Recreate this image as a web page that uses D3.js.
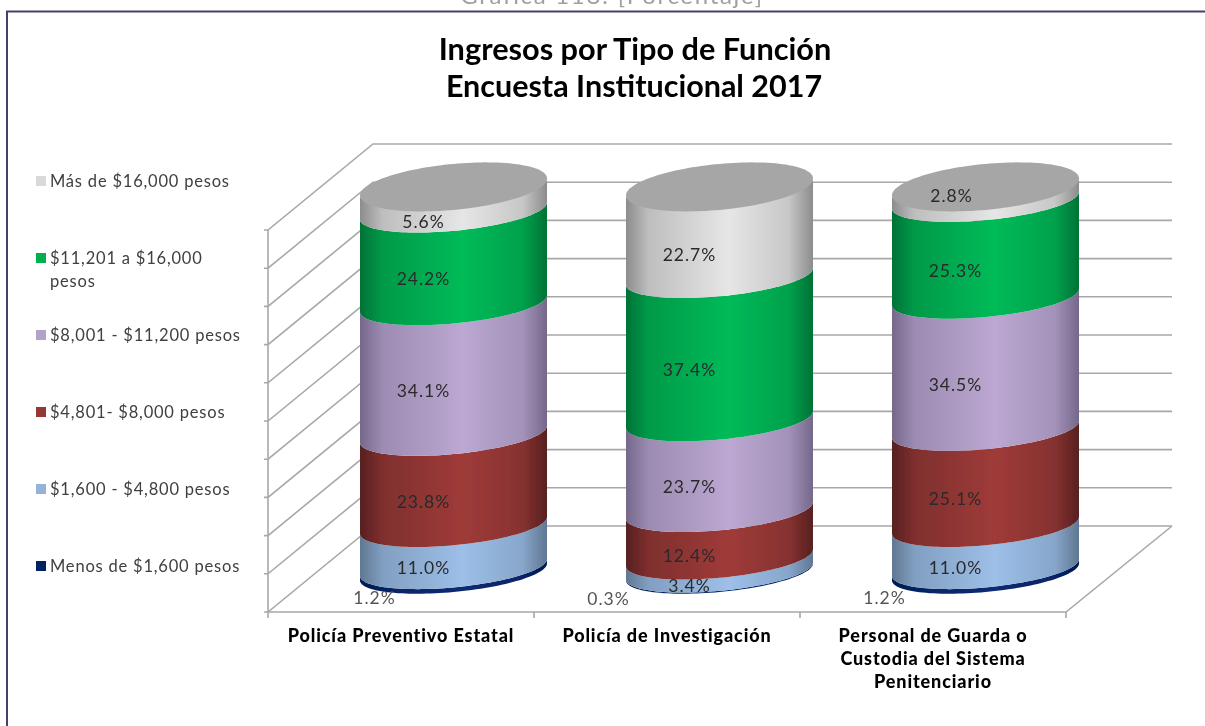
<!DOCTYPE html>
<html><head><meta charset="utf-8">
<script src="https://cdn.jsdelivr.net/npm/d3@7"></script>
<style>html,body{margin:0;padding:0;background:#fff;overflow:hidden}svg{display:block}text{font-family:Lato,"Open Sans",sans-serif}</style>
</head><body><svg id="c" width="1205" height="726"></svg>
<script>
const categories = ["Policía Preventivo Estatal","Policía de Investigación","Personal de Guarda o|Custodia del Sistema|Penitenciario"];
const seriesNames = ["Menos de $1,600 pesos","$1,600 - $4,800 pesos","$4,801- $8,000 pesos","$8,001 - $11,200 pesos","$11,201 a $16,000|pesos","Más de $16,000 pesos"];
const menos1600 = [1.2,0.3,1.2];
const de1600 = [11.0,3.4,11.0];
const de4801 = [23.8,12.4,25.1];
const de8001 = [34.1,23.7,34.5];
const de11201 = [24.2,37.4,25.3];
const mas16000 = [5.6,22.7,2.8];
const seriesValues = [menos1600,de1600,de4801,de8001,de11201,mas16000];
const yTicks = [0,10,20,30,40,50,60,70,80,90,100];
const bright = ["#0b2a72","#9dbfe8","#9f3b39","#bca8d2","#00bb58","#e6e6e6"];
const dark = ["#001a50","#5f7792","#572020","#75688a","#007236","#8c8c8c"];
const legendColors = ["#002060","#95b3d7","#953735","#b3a2c7","#00b050","#d9d9d9"];

const svg = d3.select("#c");
const defs = svg.append("defs");
defs.append("filter").attr("id","soft").attr("x","-2%").attr("y","-2%").attr("width","104%").attr("height","104%")
  .append("feGaussianBlur").attr("stdDeviation",0.55);
const root = svg.append("g").attr("filter","url(#soft)");

// page furniture
root.append("text").attr("x",612).attr("y",4).attr("text-anchor","middle").attr("font-size",24)
  .attr("letter-spacing",1.7).attr("fill","#a0a0a0").text("Gráfica 118: [Porcentaje]");
root.append("path").attr("d","M7,730V11.5H1210").attr("fill","none").attr("stroke","#4a3f6b").attr("stroke-width",2);

// title
root.append("text").attr("x",635).attr("y",60).attr("text-anchor","middle").attr("font-weight",700)
  .attr("font-size",30.7).attr("fill","#000").text("Ingresos por Tipo de Función");
root.append("text").attr("x",634).attr("y",97).attr("text-anchor","middle").attr("font-weight",700)
  .attr("font-size",30.5).attr("fill","#000").text("Encuesta Institucional 2017");

// scales
const x = d3.scaleBand().domain(categories).range([268,1066]);
const yFront = d3.scaleLinear().domain([0,100]).range([612,230]);
const depthX = 105, depthY = -86;
const yCyl = d3.scaleLinear().domain([0,100]).range([572,189]);
const rx = 93.5, A = 20, B = 8.5, capLift = 2.5;

// walls and gridlines
const grid = root.append("g").attr("fill","none").attr("stroke","#a8a8a8").attr("stroke-width",1.6);
yTicks.forEach(t=>{
  const y=yFront(t);
  grid.append("path").attr("d",`M264,${y}H268L${268+depthX},${y+depthY}H${1066+depthX+1}`);
});
grid.append("path").attr("d",`M268,${yFront(100)}V${yFront(0)}H1066L${1066+depthX+1},${yFront(0)+depthY}`);
categories.concat([null]).forEach((c,i)=>{
  const xx = c? x(c): x.range()[1];
  grid.append("path").attr("d",`M${xx},612V618`);
});

// cylinders
const table = categories.map((c,i)=>{const o={c}; seriesNames.forEach((s,k)=>o[s]=seriesValues[k][i]); return o;});
const stacked = d3.stack().keys(seriesNames)(table);
function frontArc(cx,cy,rev){
  const pts=d3.range(0,65).map(i=>{
    const t=Math.PI*i/64;
    return [cx+rx*Math.cos(t), cy+A*Math.sin(t)-B*Math.cos(t)];
  });
  return rev?pts.reverse():pts;
}
const line=d3.line();
categories.forEach((c,i)=>{
  const cx=x(c)+x.bandwidth()/2+depthX/2;
  const g=root.append("g");
  stacked.forEach((layer,k)=>{
    const id=`g${i}_${k}`;
    const lg=defs.append("linearGradient").attr("id",id).attr("gradientUnits","userSpaceOnUse")
      .attr("x1",cx-rx).attr("x2",cx+rx).attr("y1",0).attr("y2",0);
    [[0,dark[k]],[0.12,d3.interpolateRgb(dark[k],bright[k])(0.55)],[0.55,bright[k]],[0.87,d3.interpolateRgb(dark[k],bright[k])(0.65)],[1,dark[k]]]
      .forEach(s=>lg.append("stop").attr("offset",s[0]).attr("stop-color",s[1]));
    const [v0,v1]=layer[i];
    const isTop=k===stacked.length-1;
    const lower=frontArc(cx,yCyl(v0)), upper=frontArc(cx,yCyl(v1)-(isTop?capLift:0),true);
    g.append("path").attr("d",line(lower.concat(upper))+"Z").attr("fill",`url(#${id})`);
  });
  // top cap
  const topV=stacked[stacked.length-1][i][1];
  const capY=yCyl(topV)-capLift;
  const cap=d3.range(0,129).map(j=>{const t=2*Math.PI*j/128;
    return [cx+rx*Math.cos(t), capY+23*Math.sin(t)-B*Math.cos(t)];});
  g.append("path").attr("d",line(cap)+"Z").attr("fill","#a6a6a6");
});

// data labels
const labelGroup=root.append("g").attr("font-size",17.5).attr("text-anchor","middle").attr("letter-spacing",1);
const outside={ "0_0":[-79,28],"1_0":[-111,28],"2_0":[-101,28], "2_5":[-34,1] };
stacked.forEach((layer,k)=>{
  categories.forEach((c,i)=>{
    const cx=x(c)+x.bandwidth()/2+depthX/2;
    const [v0,v1]=layer[i];
    const o=outside[`${i}_${k}`]||[-30,22];
    labelGroup.append("text").attr("x",cx+o[0]).attr("y",yCyl((v0+v1)/2)+o[1]+6)
      .attr("fill",k===0?"#555":"#2a2a2a").text((v1-v0).toFixed(1)+"%");
  });
});

// axis labels
const axisLabels=root.append("g").attr("font-size",18).attr("font-weight",900).attr("text-anchor","middle").attr("fill","#000").attr("letter-spacing",0.88);
categories.forEach(c=>{
  c.split("|").forEach((t,j)=>{
    axisLabels.append("text").attr("x",x(c)+x.bandwidth()/2).attr("y",642+j*23).text(t);
  });
});

// legend
const legendY=d3.scalePoint().domain(seriesNames).range([566,181]);
const legend=root.append("g");
seriesNames.forEach((s,k)=>{
  const y=legendY(s);
  legend.append("rect").attr("x",36).attr("y",y-5).attr("width",10).attr("height",10).attr("fill",legendColors[k]);
  s.split("|").forEach((t,j)=>{
    legend.append("text").attr("x",50).attr("y",y+5.5+j*23).attr("font-size",16.5).attr("letter-spacing",0.8).attr("fill","#404040").text(t);
  });
});
</script></body></html>
